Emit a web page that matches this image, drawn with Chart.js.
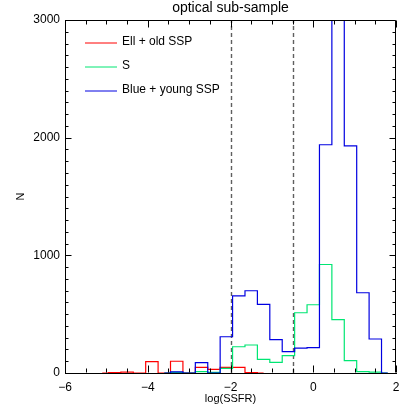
<!DOCTYPE html>
<html>
<head>
<meta charset="utf-8">
<script src="https://cdn.jsdelivr.net/npm/chart.js@4.4.1/dist/chart.umd.min.js"></script>
<style>
html,body{margin:0;padding:0;background:#fff;}
#wrap{width:415px;height:415px;}
</style>
</head>
<body>
<div id="wrap"><canvas id="c" width="415" height="415"></canvas></div>
<script>
// ---- data ----
const titleText = 'optical sub-sample';
const xTitle = 'log(SSFR)';
const yTitle = 'N';
const seriesNames = ['Ell + old SSP', 'S', 'Blue + young SSP'];
const seriesColors = ['rgb(255,0,0)', 'rgb(0,230,115)', 'rgb(0,0,225)'];
// bin centres of log(SSFR) histogram (bin width 0.3)
const binCenters = [-5.1,-4.8,-4.5,-4.2,-3.9,-3.6,-3.3,-3.0,-2.7,-2.4,-2.1,-1.8,-1.5,-1.2,-0.9,-0.6,-0.3,0,0.3,0.6,0.9,1.2,1.5,1.8,2.1];
const ellValues  = [0,3,8,0,96,0,100,0,48,31,48,48,3,0,null,null,null,null,null,null,null,null,null,null,null];
const sValues    = [null,null,null,null,null,0,5,0,11,5,40,223,238,116,91,147,512,580,922,454,105,12,8,0,null];
const blueValues = [null,null,null,null,null,0,10,0,88,0,308,656,699,584,283,181,212,215,1940,3500,1931,682,289,0,null];
const xTicks = [-6,-4,-2,0,2];
const yTicks = [0,1000,2000,3000];
const refLines = [-2, -0.5];

const FONT = "'Liberation Sans', Arial, Helvetica, sans-serif";
const fmt = v => String(v).replace('-', '\u2212');

function toPoints(vals){ return binCenters.map((x,i)=>({x:x, y:vals[i]})); }

const decor = {
  id: 'decor',
  beforeDatasetsDraw(chart){
    const {ctx, chartArea:a, scales:{x}} = chart;
    ctx.save();
    ctx.strokeStyle = 'rgb(95,95,95)';
    ctx.lineWidth = 1.4;
    ctx.setLineDash([4,3]);
    refLines.forEach(v=>{
      const px = Math.round(x.getPixelForValue(v)) + 0.5;
      ctx.beginPath(); ctx.moveTo(px, a.bottom); ctx.lineTo(px, a.top); ctx.stroke();
    });
    ctx.restore();
  },
  afterDraw(chart){
    const {ctx, chartArea:a, scales:{x,y}} = chart;
    ctx.save();
    ctx.strokeStyle = '#000';
    ctx.lineWidth = 1;
    const L = Math.round(a.left)+0.5, R = Math.round(a.right)-0.5, T = Math.round(a.top)+0.5, B = Math.round(a.bottom)-0.5;
    ctx.beginPath();
    ctx.moveTo(L,T); ctx.lineTo(R,T); ctx.lineTo(R,B); ctx.moveTo(L,B); ctx.lineTo(L,T);
    ctx.stroke();
    // x ticks (major + minor), inward, bottom & top
    ctx.beginPath();
    for (let v = x.min; v <= x.max + 1e-9; v += 0.5) {
      const px = Math.round(x.getPixelForValue(v)) + 0.5;
      const len = xTicks.some(t => Math.abs(t - v) < 1e-9) ? 7 : 4;
      ctx.moveTo(px, B); ctx.lineTo(px, B - len);
      ctx.moveTo(px, T); ctx.lineTo(px, T + len);
    }
    for (let v = y.min; v <= y.max + 1e-9; v += 100) {
      const py = Math.round(y.getPixelForValue(v)) + 0.5;
      const len = yTicks.some(t => Math.abs(t - v) < 1e-9) ? 6 : 3;
      ctx.moveTo(L, py); ctx.lineTo(L + len, py);
      ctx.moveTo(R, py); ctx.lineTo(R - len, py);
    }
    ctx.stroke();
    // title
    ctx.fillStyle = '#000';
    ctx.font = '14px ' + FONT;
    ctx.textAlign = 'center';
    ctx.textBaseline = 'alphabetic';
    ctx.fillText(titleText, (a.left + a.right) / 2, 12);
    // legend
    ctx.font = '12px ' + FONT;
    ctx.textAlign = 'left';
    seriesNames.forEach((name, i) => {
      const ly = 43 + i * 24;
      ctx.strokeStyle = seriesColors[i];
      ctx.beginPath(); ctx.moveTo(85, ly); ctx.lineTo(117, ly); ctx.stroke();
      ctx.fillStyle = '#000';
      ctx.fillText(name, 122, ly + 2);
    });
    ctx.restore();
  }
};

const values = [ellValues, sValues, blueValues];
new Chart(document.getElementById('c'), {
  type: 'line',
  data: {
    datasets: seriesNames.map((name, i) => ({
      label: name,
      data: toPoints(values[i]),
      borderColor: seriesColors[i],
      borderWidth: 1.2,
      pointRadius: 0,
      stepped: 'middle',
      fill: false,
      spanGaps: false,
      order: 2 - i
    }))
  },
  options: {
    responsive: false,
    devicePixelRatio: 1,
    animation: false,
    layout: { padding: { top: 20, right: 19, left: 0, bottom: 0 } },
    plugins: { legend: { display: false }, tooltip: { enabled: false }, title: { display: false } },
    scales: {
      x: {
        type: 'linear', min: -6, max: 2, position: 'bottom',
        ticks: { stepSize: 2, autoSkip: false, maxRotation: 0, padding: 7, color: '#000',
                 font: { family: FONT, size: 12 }, callback: v => fmt(v) },
        grid: { display: false, drawTicks: false },
        border: { display: true, color: '#000', width: 1 },
        title: { display: true, text: xTitle, color: '#000', font: { family: FONT, size: 11 }, padding: { top: 0, bottom: 9 } },
        afterFit(s) { s.height = 42; }
      },
      y: {
        type: 'linear', min: 0, max: 3000,
        ticks: { stepSize: 1000, padding: 5, color: '#000', font: { family: FONT, size: 12 }, callback: v => String(v) },
        grid: { display: false, drawTicks: false },
        border: { display: true, color: '#000', width: 1 },
        title: { display: true, text: yTitle, color: '#000', font: { family: FONT, size: 11 }, padding: { top: 14, bottom: 0 } },
        afterFit(s) { s.width = 65; }
      }
    }
  },
  plugins: [decor]
});
</script>
</body>
</html>
